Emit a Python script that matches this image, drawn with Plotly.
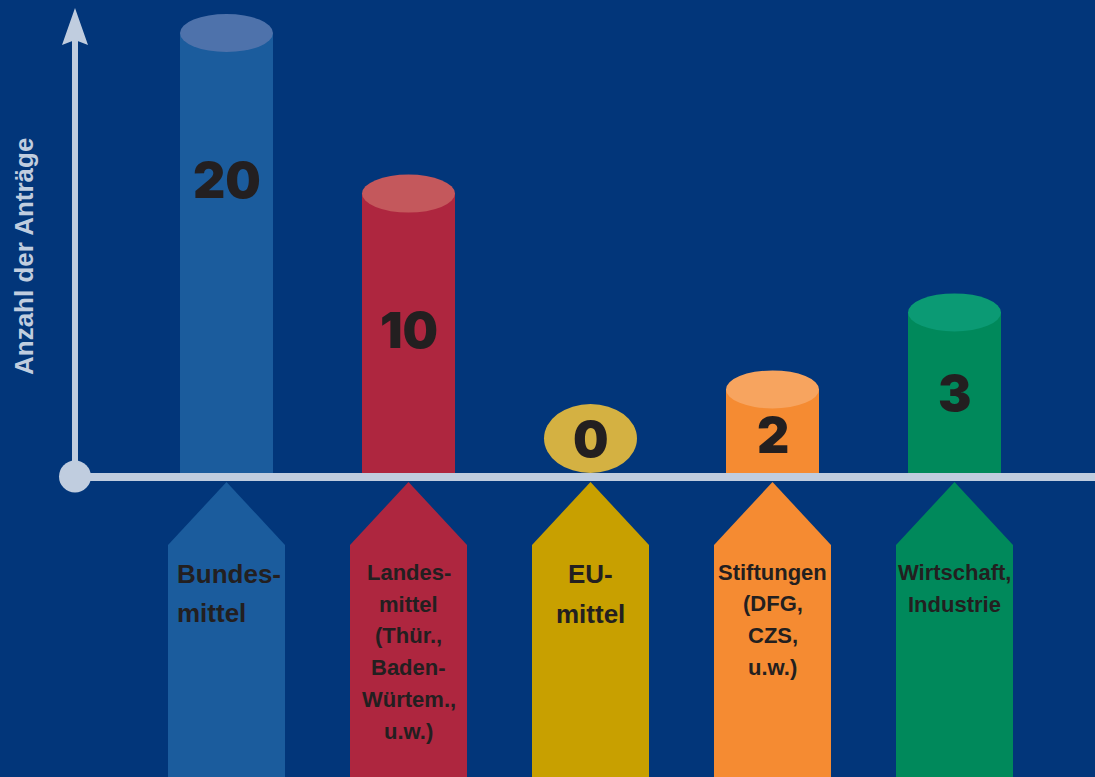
import plotly.graph_objects as go

# ---------------- data ----------------
categories = [
    "Bundes-<br>mittel",
    "Landes-<br>mittel<br>(Thür.,<br>Baden-<br>Würtem.,<br>u.w.)",
    "EU-<br>mittel",
    "Stiftungen<br>(DFG,<br>CZS,<br>u.w.)",
    "Wirtschaft,<br>Industrie",
]
counts = [20, 10, 0, 2, 3]
# drawn cylinder heights as they appear in the (non-linear) infographic
bar_heights = [20.0, 12.7, 0.0, 3.8, 7.3]
y_title = "Anzahl der Anträge"

# ---------------- styles / layout ----------------
body_colors = ["#1b5c9d", "#ae263f", "#c8a000", "#f58b32", "#00895b"]
top_colors = ["#4e72ab", "#c4585c", "#d4b142", "#f7a45f", "#0b9a74"]
BG = "#02367a"
AXIS = "#c0cddf"
TEXT_DARK = "#231f20"
LABEL_FONT = "Liberation Sans, Arial, sans-serif"

W, H = 1095, 777
X0_PX, X_STEP = 226.5, 182.0   # px of first category centre, px per category
Y0_PX, Y_UNIT = 473.0, 22.0    # px of baseline, px per unit
BAR_W = 93 / X_STEP
CAP_HALF_H = 19 / Y_UNIT
num_label_y = [13.3, 6.5, 1.55, 1.75, 3.65]
label_font_sizes = [26, 22, 26, 22, 22]
label_first_px = [574, 572.5, 574, 572, 572]
label_pitch_px = [39, 31.7, 39.5, 31.7, 32]
label_left_px = [175, None, None, None, None]   # left-aligned block start (px) or centred

def px(x):
    return x / W

def py(y):
    return 1 - y / H

xs = list(range(len(categories)))

fig = go.Figure()
fig.add_trace(go.Bar(
    x=xs, y=bar_heights, width=BAR_W,
    marker=dict(color=body_colors, line=dict(width=0)),
    hoverinfo="skip", showlegend=False,
))

shapes = []
# cylinder tops
for i, h in enumerate(bar_heights):
    if h > 0:
        y0, y1 = h - CAP_HALF_H, h + CAP_HALF_H
    else:
        y0, y1 = 0, 69 / Y_UNIT
    shapes.append(dict(type="circle", xref="x", yref="y", layer="above",
                       x0=i - BAR_W / 2, x1=i + BAR_W / 2, y0=y0, y1=y1,
                       fillcolor=top_colors[i], line=dict(width=0)))

# x axis line
shapes.append(dict(type="rect", xref="paper", yref="paper", layer="above",
                   x0=px(75), x1=px(W + 5), y0=py(481), y1=py(473),
                   fillcolor=AXIS, line=dict(width=0)))
# y axis line
shapes.append(dict(type="rect", xref="paper", yref="paper", layer="above",
                   x0=px(72), x1=px(78), y0=py(476), y1=py(38),
                   fillcolor=AXIS, line=dict(width=0)))
# arrow head
shapes.append(dict(type="path", xref="paper", yref="paper", layer="above",
                   path=f"M {px(75)},{py(8)} L {px(88)},{py(45)} L {px(75)},{py(40)} L {px(62)},{py(45)} Z",
                   fillcolor=AXIS, line=dict(width=0)))
# origin dot
shapes.append(dict(type="circle", xref="paper", yref="paper", layer="above",
                   x0=px(59), x1=px(91), y0=py(492.5), y1=py(460.5),
                   fillcolor=AXIS, line=dict(width=0)))

# label pentagons
half = 58.5 / X_STEP
tip_y = -(482 - Y0_PX) / Y_UNIT
sh_y = -(545 - Y0_PX) / Y_UNIT
bot_y = -(H + 10 - Y0_PX) / Y_UNIT
for i in xs:
    shapes.append(dict(type="path", xref="x", yref="y", layer="above",
                       path=(f"M {i},{tip_y} L {i + half},{sh_y} L {i + half},{bot_y} "
                             f"L {i - half},{bot_y} L {i - half},{sh_y} Z"),
                       fillcolor=body_colors[i], line=dict(width=0)))

annotations = []
for i, c in enumerate(counts):
    annotations.append(dict(x=i, y=num_label_y[i], xref="x", yref="y",
                            text=str(c), showarrow=False,
                            font=dict(family="Inter", size=50, weight=900, color=TEXT_DARK),
                            xanchor="center", yanchor="middle"))
for i, cat in enumerate(categories):
    for k, line in enumerate(cat.split("<br>")):
        if label_left_px[i] is not None:
            xx, xa = i + (label_left_px[i] - (X0_PX + i * X_STEP)) / X_STEP, "left"
        else:
            xx, xa = i, "center"
        annotations.append(dict(x=xx, y=py(label_first_px[i] + k * label_pitch_px[i]),
                                xref="x", yref="paper",
                                text=f"<b>{line}</b>", showarrow=False,
                                font=dict(family=LABEL_FONT, size=label_font_sizes[i], color=TEXT_DARK),
                                xanchor=xa, yanchor="middle"))
annotations.append(dict(x=px(24), y=py(257), xref="paper", yref="paper",
                        text=f"<b>{y_title}</b>", showarrow=False, textangle=-90,
                        font=dict(family=LABEL_FONT, size=26, color=AXIS),
                        xanchor="center", yanchor="middle"))

fig.update_layout(
    width=W, height=H,
    margin=dict(l=0, r=0, t=0, b=0),
    paper_bgcolor=BG, plot_bgcolor=BG,
    xaxis=dict(visible=False, range=[-X0_PX / X_STEP, (W - X0_PX) / X_STEP], fixedrange=True),
    yaxis=dict(visible=False, range=[-(H - Y0_PX) / Y_UNIT, Y0_PX / Y_UNIT], fixedrange=True),
    shapes=shapes, annotations=annotations,
    bargap=0, showlegend=False,
)

fig.write_html("out.html", config={"displayModeBar": False})
